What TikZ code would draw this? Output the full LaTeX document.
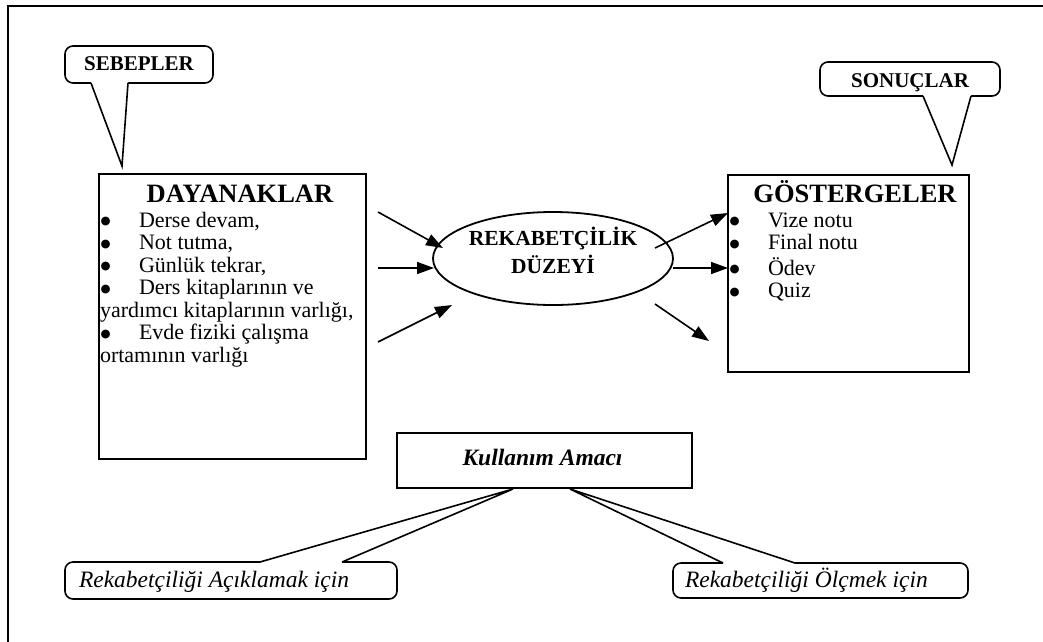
\documentclass[tikz,border=0pt]{standalone}
\usepackage{fontspec}
\setmainfont{Liberation Serif}
\newfontfamily\dejavu{DejaVu Sans}
\usetikzlibrary{arrows.meta,shapes.geometric,calc}
\newcommand{\mbul}{\makebox[39pt][l]{\hspace{0.5pt}\raisebox{2.2pt}{\dejavu\fontsize{11.5}{12}\selectfont ●}}}
\begin{document}
\begin{tikzpicture}[x=1pt,y=-1pt,
  box/.style={draw,line width=1.6pt,fill=white,inner sep=0pt,rectangle},
  cbox/.style={draw,line width=1.6pt,fill=white,inner sep=0pt,rounded corners=8pt},
  tail/.style={line width=1.6pt,line join=miter},
  arr/.style={line width=1.6pt,-{Triangle[length=17pt,width=12pt]}},
  txt/.style={inner sep=0pt,outer sep=0pt},
  body/.style={txt,align=left,font=\fontsize{22}{22.5}\selectfont},
  title/.style={txt,anchor=base,font=\fontsize{26.5}{30}\selectfont\bfseries},
  ctitle/.style={txt,anchor=base,font=\fontsize{21}{24}\selectfont\bfseries},
  itxt/.style={txt,anchor=base west,font=\fontsize{23.5}{26}\selectfont\itshape},
]
\useasboundingbox (0,0) rectangle (1043,641);
\clip (0,0) rectangle (1043,641);
\draw[line width=2pt] (8,6) rectangle (1100,700);

% main boxes
\node[box,minimum width=267pt,minimum height=285pt] (day) at (232.5,316.5) {};
\node[box,minimum width=241pt,minimum height=197pt] (gos) at (848.5,273.5) {};
\node[title] (dayt) at (240,202) {DAYANAKLAR};
\node[title] (gost) at (855,202) {GÖSTERGELER};

\node[body,anchor=north west] (dayl) at (100,211.25) {%
\mbul Derse devam,\strut\\
\mbul Not tutma,\strut\\
\mbul Günlük tekrar,\strut\\
\mbul Ders kitaplarının ve\strut\\
yardımcı kitaplarının varlığı,\strut\\
\mbul Evde fiziki çalışma\strut\\
ortamının varlığı\strut};

\node[body,anchor=north west] (gosl) at (729,211.25) {%
\mbul Vize notu\strut\\
\mbul Final notu\strut\\
\mbul Ödev\strut\\
\mbul Quiz\strut};

% ellipse
\node[draw,ellipse,line width=1.8pt,minimum width=240pt,minimum height=93pt,inner sep=0pt] (rek) at (553,258.5) {};
\node[txt,align=center,font=\fontsize{21.5}{28}\selectfont\bfseries] (rekt) at (553,253.4) {REKABETÇİLİK\strut\\DÜZEYİ\strut};

% arrows
\coordinate (a1s) at (378,212); \coordinate (a1e) at (443,248);
\coordinate (a2s) at (378,268); \coordinate (a2e) at (434,268);
\coordinate (a3s) at (378,342); \coordinate (a3e) at (452,305);
\coordinate (b1s) at (655,248); \coordinate (b1e) at (728,213);
\coordinate (b2s) at (673,268); \coordinate (b2e) at (728,268);
\coordinate (b3s) at (655,304); \coordinate (b3e) at (709,341);
\draw[arr] (a1s) -- (a1e);
\draw[arr] (a2s) -- (a2e);
\draw[arr] (a3s) -- (a3e);
\draw[arr] (b1s) -- (b1e);
\draw[arr] (b2s) -- (b2e);
\draw[arr] (b3s) -- (b3e);

% SEBEPLER callout
\node[cbox,minimum width=148pt,minimum height=37pt] (seb) at (139,64.5) {};
\coordinate (seb1) at (91,83); \coordinate (seb2) at (128,83); \coordinate (sebp) at (122,166);
\fill[white] ($(seb1)+(0,-3)$) -- (seb1) -- (sebp) -- (seb2) -- ($(seb2)+(0,-3)$) -- cycle;
\draw[tail] (seb1) -- (sebp) -- (seb2);
\node[ctitle] (sebt) at (139,70) {SEBEPLER};

% SONUCLAR callout
\node[cbox,minimum width=180pt,minimum height=34pt] (son) at (910,79) {};
\coordinate (son1) at (923,96); \coordinate (son2) at (971,96); \coordinate (sonp) at (952,165);
\fill[white] ($(son1)+(0,-3)$) -- (son1) -- (sonp) -- (son2) -- ($(son2)+(0,-3)$) -- cycle;
\draw[tail] (son1) -- (sonp) -- (son2);
\node[ctitle] (sont) at (910,87) {SONUÇLAR};

% Kullanim Amaci
\node[box,minimum width=295pt,minimum height=55pt] (kul) at (544.5,460.5) {};
\node[txt,anchor=base,font=\fontsize{23.5}{26}\selectfont\bfseries\itshape] (kult) at (542.5,465) {Kullanım Amacı};

% bottom left callout
\node[cbox,minimum width=332pt,minimum height=37pt] (acl) at (231,580.5) {};
\coordinate (acl1) at (260,562); \coordinate (acl2) at (342,562); \coordinate (aclp) at (513,489);
\fill[white] ($(acl1)+(0,3)$) -- (acl1) -- (aclp) -- (acl2) -- ($(acl2)+(0,3)$) -- cycle;
\draw[tail] (acl1) -- (aclp) -- (acl2);
\node[itxt] (aclt) at (79,587) {Rekabetçiliği Açıklamak için};

% bottom right callout
\node[cbox,minimum width=295pt,minimum height=35pt] (olc) at (820.5,580.5) {};
\coordinate (olc1) at (723,563); \coordinate (olc2) at (795,563); \coordinate (olcp) at (570,489);
\fill[white] ($(olc1)+(0,3)$) -- (olc1) -- (olcp) -- (olc2) -- ($(olc2)+(0,3)$) -- cycle;
\draw[tail] (olc1) -- (olcp) -- (olc2);
\node[itxt] (olct) at (685,587) {Rekabetçiliği Ölçmek için};
\end{tikzpicture}
\end{document}
